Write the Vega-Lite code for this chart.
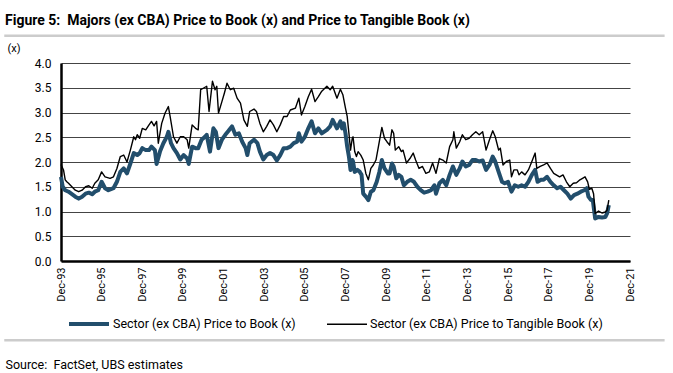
{
  "$schema": "https://vega.github.io/schema/vega-lite/v6.json",
  "width": 569,
  "height": 198,
  "autosize": "none",
  "padding": {"left": 61, "top": 63, "right": 43, "bottom": 112},
  "background": "white",
  "config": {"font": "Roboto", "view": {"stroke": null}},
  "title": {
    "text": "Figure 5:\u00a0 Majors (ex CBA) Price to Book (x) and Price to Tangible Book (x)",
    "anchor": "start", "frame": "group", "dx": -56, "offset": 7,
    "fontSize": 14, "fontWeight": "bold", "color": "#000000", "font": "Roboto"
  },
  "resolve": {"axis": {"x": "independent", "y": "independent"}},
  "datasets": {
    "series": [
      {"d": "1993-12-01", "s": "PB", "v": 1.70},
      {"d": "1994-01-01", "s": "PB", "v": 1.50},
      {"d": "1994-02-15", "s": "PB", "v": 1.43},
      {"d": "1994-04-15", "s": "PB", "v": 1.40},
      {"d": "1994-06-15", "s": "PB", "v": 1.35},
      {"d": "1994-08-15", "s": "PB", "v": 1.30},
      {"d": "1994-10-15", "s": "PB", "v": 1.26},
      {"d": "1994-12-15", "s": "PB", "v": 1.30},
      {"d": "1995-02-15", "s": "PB", "v": 1.36},
      {"d": "1995-04-15", "s": "PB", "v": 1.38},
      {"d": "1995-06-15", "s": "PB", "v": 1.35},
      {"d": "1995-08-01", "s": "PB", "v": 1.40},
      {"d": "1995-10-01", "s": "PB", "v": 1.43},
      {"d": "1995-12-01", "s": "PB", "v": 1.60},
      {"d": "1996-02-01", "s": "PB", "v": 1.47},
      {"d": "1996-04-01", "s": "PB", "v": 1.43},
      {"d": "1996-07-01", "s": "PB", "v": 1.47},
      {"d": "1996-09-01", "s": "PB", "v": 1.60},
      {"d": "1996-11-01", "s": "PB", "v": 1.80},
      {"d": "1997-01-01", "s": "PB", "v": 1.87},
      {"d": "1997-03-01", "s": "PB", "v": 1.77},
      {"d": "1997-05-01", "s": "PB", "v": 1.97},
      {"d": "1997-07-01", "s": "PB", "v": 2.18},
      {"d": "1997-09-01", "s": "PB", "v": 2.14},
      {"d": "1997-10-15", "s": "PB", "v": 2.18},
      {"d": "1997-12-01", "s": "PB", "v": 2.28},
      {"d": "1998-02-01", "s": "PB", "v": 2.24},
      {"d": "1998-04-01", "s": "PB", "v": 2.24},
      {"d": "1998-05-15", "s": "PB", "v": 2.31},
      {"d": "1998-07-15", "s": "PB", "v": 2.24},
      {"d": "1998-08-15", "s": "PB", "v": 1.96},
      {"d": "1998-10-15", "s": "PB", "v": 2.21},
      {"d": "1998-12-15", "s": "PB", "v": 2.38},
      {"d": "1999-02-15", "s": "PB", "v": 2.51},
      {"d": "1999-03-15", "s": "PB", "v": 2.61},
      {"d": "1999-05-01", "s": "PB", "v": 2.38},
      {"d": "1999-06-15", "s": "PB", "v": 2.28},
      {"d": "1999-08-15", "s": "PB", "v": 2.18},
      {"d": "1999-10-15", "s": "PB", "v": 2.05},
      {"d": "1999-12-15", "s": "PB", "v": 2.14},
      {"d": "2000-02-15", "s": "PB", "v": 2.07},
      {"d": "2000-03-15", "s": "PB", "v": 1.96},
      {"d": "2000-05-15", "s": "PB", "v": 2.31},
      {"d": "2000-07-15", "s": "PB", "v": 2.28},
      {"d": "2000-09-01", "s": "PB", "v": 2.28},
      {"d": "2000-11-01", "s": "PB", "v": 2.45},
      {"d": "2001-01-01", "s": "PB", "v": 2.51},
      {"d": "2001-02-01", "s": "PB", "v": 2.55},
      {"d": "2001-04-01", "s": "PB", "v": 2.21},
      {"d": "2001-06-01", "s": "PB", "v": 2.68},
      {"d": "2001-07-15", "s": "PB", "v": 2.61},
      {"d": "2001-09-01", "s": "PB", "v": 2.28},
      {"d": "2001-11-01", "s": "PB", "v": 2.45},
      {"d": "2002-01-01", "s": "PB", "v": 2.55},
      {"d": "2002-03-01", "s": "PB", "v": 2.63},
      {"d": "2002-05-01", "s": "PB", "v": 2.72},
      {"d": "2002-07-01", "s": "PB", "v": 2.55},
      {"d": "2002-09-01", "s": "PB", "v": 2.58},
      {"d": "2002-11-01", "s": "PB", "v": 2.41},
      {"d": "2003-01-01", "s": "PB", "v": 2.28},
      {"d": "2003-02-01", "s": "PB", "v": 2.14},
      {"d": "2003-03-15", "s": "PB", "v": 2.38},
      {"d": "2003-06-01", "s": "PB", "v": 2.45},
      {"d": "2003-08-01", "s": "PB", "v": 2.38},
      {"d": "2003-09-15", "s": "PB", "v": 2.21},
      {"d": "2003-11-15", "s": "PB", "v": 2.05},
      {"d": "2004-01-15", "s": "PB", "v": 2.14},
      {"d": "2004-03-15", "s": "PB", "v": 2.18},
      {"d": "2004-05-15", "s": "PB", "v": 2.14},
      {"d": "2004-07-15", "s": "PB", "v": 2.03},
      {"d": "2004-09-15", "s": "PB", "v": 2.14},
      {"d": "2004-11-15", "s": "PB", "v": 2.28},
      {"d": "2005-01-15", "s": "PB", "v": 2.28},
      {"d": "2005-03-15", "s": "PB", "v": 2.31},
      {"d": "2005-05-15", "s": "PB", "v": 2.38},
      {"d": "2005-07-15", "s": "PB", "v": 2.41},
      {"d": "2005-08-15", "s": "PB", "v": 2.58},
      {"d": "2005-10-01", "s": "PB", "v": 2.41},
      {"d": "2005-12-01", "s": "PB", "v": 2.51},
      {"d": "2006-02-01", "s": "PB", "v": 2.68},
      {"d": "2006-04-01", "s": "PB", "v": 2.82},
      {"d": "2006-06-01", "s": "PB", "v": 2.58},
      {"d": "2006-08-01", "s": "PB", "v": 2.68},
      {"d": "2006-10-01", "s": "PB", "v": 2.58},
      {"d": "2007-01-01", "s": "PB", "v": 2.65},
      {"d": "2007-03-01", "s": "PB", "v": 2.72},
      {"d": "2007-04-15", "s": "PB", "v": 2.85},
      {"d": "2007-07-01", "s": "PB", "v": 2.68},
      {"d": "2007-09-01", "s": "PB", "v": 2.82},
      {"d": "2007-10-01", "s": "PB", "v": 2.68},
      {"d": "2007-11-01", "s": "PB", "v": 2.78},
      {"d": "2007-12-01", "s": "PB", "v": 2.58},
      {"d": "2008-01-01", "s": "PB", "v": 2.31},
      {"d": "2008-02-01", "s": "PB", "v": 2.11},
      {"d": "2008-03-01", "s": "PB", "v": 1.84},
      {"d": "2008-04-01", "s": "PB", "v": 2.04},
      {"d": "2008-04-15", "s": "PB", "v": 2.01},
      {"d": "2008-05-15", "s": "PB", "v": 1.80},
      {"d": "2008-07-01", "s": "PB", "v": 1.84},
      {"d": "2008-08-15", "s": "PB", "v": 1.80},
      {"d": "2008-09-15", "s": "PB", "v": 1.74},
      {"d": "2008-10-15", "s": "PB", "v": 1.36},
      {"d": "2008-12-01", "s": "PB", "v": 1.30},
      {"d": "2009-01-15", "s": "PB", "v": 1.23},
      {"d": "2009-03-01", "s": "PB", "v": 1.40},
      {"d": "2009-04-15", "s": "PB", "v": 1.43},
      {"d": "2009-06-15", "s": "PB", "v": 1.60},
      {"d": "2009-08-01", "s": "PB", "v": 1.80},
      {"d": "2009-09-15", "s": "PB", "v": 2.04},
      {"d": "2009-11-01", "s": "PB", "v": 1.87},
      {"d": "2010-01-01", "s": "PB", "v": 1.77},
      {"d": "2010-02-01", "s": "PB", "v": 1.77},
      {"d": "2010-03-15", "s": "PB", "v": 1.97},
      {"d": "2010-04-15", "s": "PB", "v": 1.91},
      {"d": "2010-06-01", "s": "PB", "v": 1.67},
      {"d": "2010-07-15", "s": "PB", "v": 1.74},
      {"d": "2010-09-01", "s": "PB", "v": 1.70},
      {"d": "2010-10-15", "s": "PB", "v": 1.53},
      {"d": "2010-12-15", "s": "PB", "v": 1.60},
      {"d": "2011-02-15", "s": "PB", "v": 1.64},
      {"d": "2011-04-15", "s": "PB", "v": 1.60},
      {"d": "2011-06-15", "s": "PB", "v": 1.50},
      {"d": "2011-08-15", "s": "PB", "v": 1.43},
      {"d": "2011-10-15", "s": "PB", "v": 1.38},
      {"d": "2011-12-15", "s": "PB", "v": 1.40},
      {"d": "2012-02-15", "s": "PB", "v": 1.43},
      {"d": "2012-04-15", "s": "PB", "v": 1.53},
      {"d": "2012-05-15", "s": "PB", "v": 1.36},
      {"d": "2012-07-15", "s": "PB", "v": 1.57},
      {"d": "2012-09-15", "s": "PB", "v": 1.64},
      {"d": "2012-11-15", "s": "PB", "v": 1.53},
      {"d": "2013-01-15", "s": "PB", "v": 1.74},
      {"d": "2013-03-15", "s": "PB", "v": 1.91},
      {"d": "2013-05-15", "s": "PB", "v": 1.74},
      {"d": "2013-07-15", "s": "PB", "v": 1.87},
      {"d": "2013-09-01", "s": "PB", "v": 2.01},
      {"d": "2013-11-01", "s": "PB", "v": 1.91},
      {"d": "2014-01-01", "s": "PB", "v": 1.94},
      {"d": "2014-03-01", "s": "PB", "v": 2.04},
      {"d": "2014-05-01", "s": "PB", "v": 2.04},
      {"d": "2014-07-01", "s": "PB", "v": 2.01},
      {"d": "2014-09-01", "s": "PB", "v": 2.03},
      {"d": "2014-11-01", "s": "PB", "v": 1.84},
      {"d": "2015-01-01", "s": "PB", "v": 1.94},
      {"d": "2015-03-01", "s": "PB", "v": 2.11},
      {"d": "2015-04-15", "s": "PB", "v": 2.01},
      {"d": "2015-06-15", "s": "PB", "v": 1.80},
      {"d": "2015-08-15", "s": "PB", "v": 1.60},
      {"d": "2015-10-01", "s": "PB", "v": 1.57},
      {"d": "2015-12-01", "s": "PB", "v": 1.60},
      {"d": "2016-02-01", "s": "PB", "v": 1.40},
      {"d": "2016-04-01", "s": "PB", "v": 1.53},
      {"d": "2016-06-01", "s": "PB", "v": 1.50},
      {"d": "2016-08-01", "s": "PB", "v": 1.53},
      {"d": "2016-10-01", "s": "PB", "v": 1.50},
      {"d": "2016-12-01", "s": "PB", "v": 1.60},
      {"d": "2017-02-01", "s": "PB", "v": 1.74},
      {"d": "2017-04-01", "s": "PB", "v": 1.84},
      {"d": "2017-05-15", "s": "PB", "v": 1.60},
      {"d": "2017-07-15", "s": "PB", "v": 1.64},
      {"d": "2017-09-01", "s": "PB", "v": 1.64},
      {"d": "2017-11-01", "s": "PB", "v": 1.70},
      {"d": "2018-01-01", "s": "PB", "v": 1.60},
      {"d": "2018-03-01", "s": "PB", "v": 1.53},
      {"d": "2018-05-01", "s": "PB", "v": 1.47},
      {"d": "2018-07-01", "s": "PB", "v": 1.50},
      {"d": "2018-09-01", "s": "PB", "v": 1.43},
      {"d": "2018-11-01", "s": "PB", "v": 1.36},
      {"d": "2019-01-01", "s": "PB", "v": 1.26},
      {"d": "2019-03-01", "s": "PB", "v": 1.33},
      {"d": "2019-05-01", "s": "PB", "v": 1.36},
      {"d": "2019-07-01", "s": "PB", "v": 1.40},
      {"d": "2019-09-01", "s": "PB", "v": 1.43},
      {"d": "2019-10-15", "s": "PB", "v": 1.47},
      {"d": "2019-11-15", "s": "PB", "v": 1.30},
      {"d": "2020-01-01", "s": "PB", "v": 1.23},
      {"d": "2020-02-01", "s": "PB", "v": 1.23},
      {"d": "2020-03-15", "s": "PB", "v": 0.86},
      {"d": "2020-05-15", "s": "PB", "v": 0.89},
      {"d": "2020-07-15", "s": "PB", "v": 0.88},
      {"d": "2020-09-15", "s": "PB", "v": 0.89},
      {"d": "2020-10-15", "s": "PB", "v": 0.96},
      {"d": "2020-11-15", "s": "PB", "v": 1.13},
      {"d": "1993-12-01", "s": "PTB", "v": 1.95},
      {"d": "1994-01-15", "s": "PTB", "v": 1.84},
      {"d": "1994-02-15", "s": "PTB", "v": 1.64},
      {"d": "1994-03-15", "s": "PTB", "v": 1.60},
      {"d": "1994-04-15", "s": "PTB", "v": 1.57},
      {"d": "1994-06-15", "s": "PTB", "v": 1.50},
      {"d": "1994-08-15", "s": "PTB", "v": 1.43},
      {"d": "1994-10-15", "s": "PTB", "v": 1.40},
      {"d": "1994-12-15", "s": "PTB", "v": 1.43},
      {"d": "1995-02-15", "s": "PTB", "v": 1.50},
      {"d": "1995-04-15", "s": "PTB", "v": 1.52},
      {"d": "1995-06-15", "s": "PTB", "v": 1.47},
      {"d": "1995-08-01", "s": "PTB", "v": 1.57},
      {"d": "1995-10-01", "s": "PTB", "v": 1.64},
      {"d": "1995-12-01", "s": "PTB", "v": 1.80},
      {"d": "1996-02-01", "s": "PTB", "v": 1.70},
      {"d": "1996-05-01", "s": "PTB", "v": 1.67},
      {"d": "1996-07-01", "s": "PTB", "v": 1.70},
      {"d": "1996-09-01", "s": "PTB", "v": 1.87},
      {"d": "1996-11-01", "s": "PTB", "v": 2.11},
      {"d": "1997-01-01", "s": "PTB", "v": 2.14},
      {"d": "1997-03-01", "s": "PTB", "v": 2.00},
      {"d": "1997-05-01", "s": "PTB", "v": 2.24},
      {"d": "1997-07-01", "s": "PTB", "v": 2.51},
      {"d": "1997-08-01", "s": "PTB", "v": 2.45},
      {"d": "1997-09-01", "s": "PTB", "v": 2.55},
      {"d": "1997-10-15", "s": "PTB", "v": 2.48},
      {"d": "1997-12-01", "s": "PTB", "v": 2.68},
      {"d": "1998-02-01", "s": "PTB", "v": 2.65},
      {"d": "1998-04-01", "s": "PTB", "v": 2.75},
      {"d": "1998-05-15", "s": "PTB", "v": 2.82},
      {"d": "1998-07-01", "s": "PTB", "v": 2.73},
      {"d": "1998-08-15", "s": "PTB", "v": 2.82},
      {"d": "1998-09-15", "s": "PTB", "v": 2.38},
      {"d": "1998-11-15", "s": "PTB", "v": 2.78},
      {"d": "1999-01-15", "s": "PTB", "v": 2.99},
      {"d": "1999-03-15", "s": "PTB", "v": 3.12},
      {"d": "1999-04-15", "s": "PTB", "v": 2.92},
      {"d": "1999-06-15", "s": "PTB", "v": 2.51},
      {"d": "1999-08-15", "s": "PTB", "v": 2.38},
      {"d": "1999-10-15", "s": "PTB", "v": 2.51},
      {"d": "1999-12-15", "s": "PTB", "v": 2.51},
      {"d": "2000-02-15", "s": "PTB", "v": 2.45},
      {"d": "2000-03-15", "s": "PTB", "v": 2.28},
      {"d": "2000-05-15", "s": "PTB", "v": 2.75},
      {"d": "2000-07-15", "s": "PTB", "v": 2.68},
      {"d": "2000-09-01", "s": "PTB", "v": 2.65},
      {"d": "2000-10-15", "s": "PTB", "v": 3.46},
      {"d": "2000-12-01", "s": "PTB", "v": 3.49},
      {"d": "2001-02-01", "s": "PTB", "v": 3.53},
      {"d": "2001-03-15", "s": "PTB", "v": 3.02},
      {"d": "2001-05-15", "s": "PTB", "v": 3.63},
      {"d": "2001-07-01", "s": "PTB", "v": 3.46},
      {"d": "2001-08-01", "s": "PTB", "v": 3.53},
      {"d": "2001-09-01", "s": "PTB", "v": 2.99},
      {"d": "2001-11-01", "s": "PTB", "v": 3.22},
      {"d": "2001-12-15", "s": "PTB", "v": 3.39},
      {"d": "2002-02-01", "s": "PTB", "v": 3.59},
      {"d": "2002-04-01", "s": "PTB", "v": 3.46},
      {"d": "2002-06-01", "s": "PTB", "v": 3.49},
      {"d": "2002-08-01", "s": "PTB", "v": 3.29},
      {"d": "2002-10-01", "s": "PTB", "v": 3.19},
      {"d": "2002-12-01", "s": "PTB", "v": 2.85},
      {"d": "2003-02-01", "s": "PTB", "v": 2.72},
      {"d": "2003-03-15", "s": "PTB", "v": 3.02},
      {"d": "2003-06-01", "s": "PTB", "v": 3.07},
      {"d": "2003-07-15", "s": "PTB", "v": 3.02},
      {"d": "2003-09-15", "s": "PTB", "v": 2.78},
      {"d": "2003-11-15", "s": "PTB", "v": 2.61},
      {"d": "2004-01-15", "s": "PTB", "v": 2.72},
      {"d": "2004-03-15", "s": "PTB", "v": 2.85},
      {"d": "2004-05-15", "s": "PTB", "v": 2.75},
      {"d": "2004-07-15", "s": "PTB", "v": 2.61},
      {"d": "2004-09-15", "s": "PTB", "v": 2.75},
      {"d": "2004-11-15", "s": "PTB", "v": 2.92},
      {"d": "2005-01-15", "s": "PTB", "v": 2.92},
      {"d": "2005-03-15", "s": "PTB", "v": 3.05},
      {"d": "2005-06-15", "s": "PTB", "v": 3.09},
      {"d": "2005-08-15", "s": "PTB", "v": 3.29},
      {"d": "2005-10-01", "s": "PTB", "v": 2.95},
      {"d": "2005-12-01", "s": "PTB", "v": 3.12},
      {"d": "2006-02-01", "s": "PTB", "v": 3.32},
      {"d": "2006-04-01", "s": "PTB", "v": 3.47},
      {"d": "2006-06-01", "s": "PTB", "v": 3.22},
      {"d": "2006-08-01", "s": "PTB", "v": 3.32},
      {"d": "2006-10-01", "s": "PTB", "v": 3.43},
      {"d": "2007-01-01", "s": "PTB", "v": 3.53},
      {"d": "2007-03-01", "s": "PTB", "v": 3.46},
      {"d": "2007-04-15", "s": "PTB", "v": 3.53},
      {"d": "2007-07-01", "s": "PTB", "v": 3.29},
      {"d": "2007-09-01", "s": "PTB", "v": 3.47},
      {"d": "2007-10-15", "s": "PTB", "v": 3.36},
      {"d": "2007-12-01", "s": "PTB", "v": 3.09},
      {"d": "2008-01-01", "s": "PTB", "v": 2.92},
      {"d": "2008-02-01", "s": "PTB", "v": 2.58},
      {"d": "2008-03-01", "s": "PTB", "v": 2.24},
      {"d": "2008-04-01", "s": "PTB", "v": 2.48},
      {"d": "2008-04-15", "s": "PTB", "v": 2.51},
      {"d": "2008-05-15", "s": "PTB", "v": 2.21},
      {"d": "2008-06-15", "s": "PTB", "v": 2.11},
      {"d": "2008-07-15", "s": "PTB", "v": 2.21},
      {"d": "2008-09-01", "s": "PTB", "v": 2.14},
      {"d": "2008-10-15", "s": "PTB", "v": 2.04},
      {"d": "2008-12-01", "s": "PTB", "v": 1.77},
      {"d": "2009-01-15", "s": "PTB", "v": 1.64},
      {"d": "2009-03-01", "s": "PTB", "v": 1.87},
      {"d": "2009-04-15", "s": "PTB", "v": 1.94},
      {"d": "2009-06-01", "s": "PTB", "v": 2.04},
      {"d": "2009-07-15", "s": "PTB", "v": 2.31},
      {"d": "2009-09-15", "s": "PTB", "v": 2.70},
      {"d": "2009-11-01", "s": "PTB", "v": 2.48},
      {"d": "2009-12-15", "s": "PTB", "v": 2.41},
      {"d": "2010-02-01", "s": "PTB", "v": 2.34},
      {"d": "2010-03-15", "s": "PTB", "v": 2.65},
      {"d": "2010-04-15", "s": "PTB", "v": 2.58},
      {"d": "2010-05-15", "s": "PTB", "v": 2.24},
      {"d": "2010-07-15", "s": "PTB", "v": 2.31},
      {"d": "2010-09-01", "s": "PTB", "v": 2.21},
      {"d": "2010-10-01", "s": "PTB", "v": 2.24},
      {"d": "2010-12-01", "s": "PTB", "v": 1.98},
      {"d": "2011-02-01", "s": "PTB", "v": 2.07},
      {"d": "2011-04-01", "s": "PTB", "v": 2.18},
      {"d": "2011-05-15", "s": "PTB", "v": 2.04},
      {"d": "2011-07-15", "s": "PTB", "v": 1.87},
      {"d": "2011-09-15", "s": "PTB", "v": 1.91},
      {"d": "2011-11-15", "s": "PTB", "v": 1.77},
      {"d": "2012-01-15", "s": "PTB", "v": 1.80},
      {"d": "2012-03-15", "s": "PTB", "v": 1.98},
      {"d": "2012-05-15", "s": "PTB", "v": 1.77},
      {"d": "2012-07-15", "s": "PTB", "v": 2.07},
      {"d": "2012-09-15", "s": "PTB", "v": 2.04},
      {"d": "2012-11-15", "s": "PTB", "v": 1.98},
      {"d": "2013-01-15", "s": "PTB", "v": 2.31},
      {"d": "2013-03-15", "s": "PTB", "v": 2.45},
      {"d": "2013-04-01", "s": "PTB", "v": 2.61},
      {"d": "2013-05-15", "s": "PTB", "v": 2.28},
      {"d": "2013-07-15", "s": "PTB", "v": 2.41},
      {"d": "2013-09-01", "s": "PTB", "v": 2.55},
      {"d": "2013-11-01", "s": "PTB", "v": 2.45},
      {"d": "2014-01-01", "s": "PTB", "v": 2.48},
      {"d": "2014-03-01", "s": "PTB", "v": 2.55},
      {"d": "2014-05-01", "s": "PTB", "v": 2.61},
      {"d": "2014-07-01", "s": "PTB", "v": 2.55},
      {"d": "2014-09-01", "s": "PTB", "v": 2.61},
      {"d": "2014-11-01", "s": "PTB", "v": 2.24},
      {"d": "2015-01-01", "s": "PTB", "v": 2.45},
      {"d": "2015-03-01", "s": "PTB", "v": 2.63},
      {"d": "2015-04-15", "s": "PTB", "v": 2.51},
      {"d": "2015-06-15", "s": "PTB", "v": 2.24},
      {"d": "2015-07-15", "s": "PTB", "v": 2.28},
      {"d": "2015-09-01", "s": "PTB", "v": 1.94},
      {"d": "2015-11-01", "s": "PTB", "v": 2.01},
      {"d": "2016-01-01", "s": "PTB", "v": 2.04},
      {"d": "2016-02-01", "s": "PTB", "v": 1.70},
      {"d": "2016-03-15", "s": "PTB", "v": 1.84},
      {"d": "2016-05-15", "s": "PTB", "v": 1.84},
      {"d": "2016-06-15", "s": "PTB", "v": 1.74},
      {"d": "2016-08-01", "s": "PTB", "v": 1.80},
      {"d": "2016-10-01", "s": "PTB", "v": 1.74},
      {"d": "2016-12-01", "s": "PTB", "v": 1.84},
      {"d": "2017-02-01", "s": "PTB", "v": 2.01},
      {"d": "2017-04-01", "s": "PTB", "v": 2.18},
      {"d": "2017-05-01", "s": "PTB", "v": 1.87},
      {"d": "2017-07-01", "s": "PTB", "v": 1.91},
      {"d": "2017-09-01", "s": "PTB", "v": 1.94},
      {"d": "2017-11-01", "s": "PTB", "v": 1.98},
      {"d": "2018-01-01", "s": "PTB", "v": 1.87},
      {"d": "2018-03-01", "s": "PTB", "v": 1.77},
      {"d": "2018-04-15", "s": "PTB", "v": 1.74},
      {"d": "2018-06-15", "s": "PTB", "v": 1.70},
      {"d": "2018-08-15", "s": "PTB", "v": 1.74},
      {"d": "2018-10-15", "s": "PTB", "v": 1.60},
      {"d": "2018-12-15", "s": "PTB", "v": 1.50},
      {"d": "2019-02-15", "s": "PTB", "v": 1.57},
      {"d": "2019-04-15", "s": "PTB", "v": 1.58},
      {"d": "2019-06-15", "s": "PTB", "v": 1.64},
      {"d": "2019-08-01", "s": "PTB", "v": 1.67},
      {"d": "2019-09-15", "s": "PTB", "v": 1.70},
      {"d": "2019-11-01", "s": "PTB", "v": 1.60},
      {"d": "2019-12-01", "s": "PTB", "v": 1.45},
      {"d": "2020-01-15", "s": "PTB", "v": 1.47},
      {"d": "2020-02-15", "s": "PTB", "v": 1.36},
      {"d": "2020-03-15", "s": "PTB", "v": 0.96},
      {"d": "2020-05-15", "s": "PTB", "v": 1.01},
      {"d": "2020-07-15", "s": "PTB", "v": 0.97},
      {"d": "2020-09-15", "s": "PTB", "v": 0.99},
      {"d": "2020-10-15", "s": "PTB", "v": 1.03},
      {"d": "2020-11-15", "s": "PTB", "v": 1.23}
    ]
  },
  "layer": [
    {
      "data": {"name": "series"},
      "mark": {"type": "line", "strokeJoin": "round"},
      "encoding": {
        "x": {
          "field": "d", "type": "temporal",
          "scale": {"domain": [{"year": 1993, "month": 12, "date": 1}, {"year": 2021, "month": 12, "date": 1}]},
          "axis": {
            "values": [
              {"year": 1993, "month": 12, "date": 1}, {"year": 1995, "month": 12, "date": 1},
              {"year": 1997, "month": 12, "date": 1}, {"year": 1999, "month": 12, "date": 1},
              {"year": 2001, "month": 12, "date": 1}, {"year": 2003, "month": 12, "date": 1},
              {"year": 2005, "month": 12, "date": 1}, {"year": 2007, "month": 12, "date": 1},
              {"year": 2009, "month": 12, "date": 1}, {"year": 2011, "month": 12, "date": 1},
              {"year": 2013, "month": 12, "date": 1}, {"year": 2015, "month": 12, "date": 1},
              {"year": 2017, "month": 12, "date": 1}, {"year": 2019, "month": 12, "date": 1},
              {"year": 2021, "month": 12, "date": 1}
            ],
            "format": "%b-%y", "labelAngle": 270, "labelAlign": "right", "labelBaseline": "middle",
            "labelFontSize": 11, "labelColor": "#000000", "labelPadding": 6, "labelFlush": false, "labelOverlap": false,
            "ticks": false, "grid": false,
            "domainColor": "#000000", "domainWidth": 2.5,
            "title": "Source:\u00a0 FactSet, UBS estimates",
            "titleX": -56, "titleY": 103, "titleAlign": "left", "titleBaseline": "middle",
            "titleFontSize": 12.5, "titleFontWeight": "normal", "titleColor": "#000000"
          }
        },
        "y": {
          "field": "v", "type": "quantitative",
          "scale": {"domain": [0, 4]},
          "axis": {
            "values": [0, 0.5, 1, 1.5, 2, 2.5, 3, 3.5, 4],
            "labelOverlap": false,
            "format": ".1f", "labelFontSize": 12, "labelColor": "#000000", "labelPadding": 10,
            "ticks": false, "domainColor": "#000000", "domainWidth": 2.5,
            "grid": true, "gridColor": "#444444", "gridWidth": 1,
            "title": "(x)", "titleAngle": 0, "titleX": -54, "titleY": -15,
            "titleAlign": "left", "titleBaseline": "middle",
            "titleFontSize": 11, "titleFontWeight": "normal", "titleColor": "#000000"
          }
        },
        "color": {
          "field": "s", "type": "nominal",
          "scale": {"domain": ["PB", "PTB"], "range": ["#224e6c", "#000000"]},
          "legend": {
            "title": null, "orient": "none", "legendX": 6, "legendY": 239, "direction": "horizontal",
            "symbolType": "stroke", "symbolSize": 1600, "labelFontSize": 12.5, "labelColor": "#000000",
            "labelOffset": 2, "columnPadding": 28, "labelLimit": 400,
            "labelExpr": "datum.label == 'PB' ? 'Sector (ex CBA) Price to Book (x)' : 'Sector (ex CBA) Price to Tangible Book (x)'"
          }
        },
        "strokeWidth": {
          "field": "s", "type": "nominal",
          "scale": {"domain": ["PB", "PTB"], "range": [4, 1.4]},
          "legend": {
            "title": null, "orient": "none", "legendX": 6, "legendY": 239, "direction": "horizontal",
            "symbolType": "stroke", "symbolSize": 1600, "labelFontSize": 12.5, "labelColor": "#000000",
            "labelOffset": 2, "columnPadding": 28, "labelLimit": 400,
            "labelExpr": "datum.label == 'PB' ? 'Sector (ex CBA) Price to Book (x)' : 'Sector (ex CBA) Price to Tangible Book (x)'"
          }
        }
      }
    },
    {
      "data": {"values": [{}]},
      "mark": {"type": "rule", "color": "#cccccc", "strokeWidth": 2.5, "clip": false},
      "encoding": {
        "x": {"datum": {"year": 1991, "month": 2, "date": 15}, "type": "temporal", "axis": null},
        "x2": {"datum": {"year": 2023, "month": 8, "date": 15}},
        "y": {"datum": 4.55, "type": "quantitative", "axis": null}
      }
    },
    {
      "data": {"values": [{}]},
      "mark": {"type": "rule", "color": "#cccccc", "strokeWidth": 2.5, "clip": false},
      "encoding": {
        "x": {"datum": {"year": 1991, "month": 2, "date": 15}, "type": "temporal", "axis": null},
        "x2": {"datum": {"year": 2023, "month": 8, "date": 15}},
        "y": {"datum": -1.6, "type": "quantitative", "axis": null}
      }
    }
  ]
}
